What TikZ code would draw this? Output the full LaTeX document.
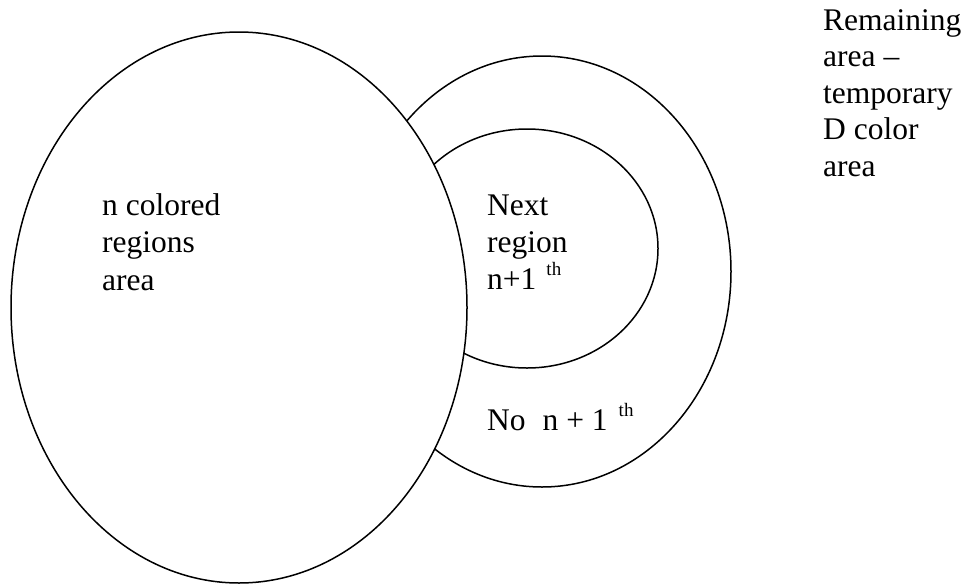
\documentclass[tikz,border=0pt]{standalone}
\usepackage{fontspec}
\setmainfont{Liberation Serif}
\begin{document}
\begin{tikzpicture}[x=1pt,y=-1pt]
\tikzset{
  region/.style={draw=black, line width=1.5pt},
  lbl/.style={anchor=base west, inner sep=0pt, font=\fontsize{31.5}{37}\selectfont},
}
\newcommand{\supth}{\raisebox{14pt}{\fontsize{19}{19}\selectfont th}}
\useasboundingbox (0,0) rectangle (966,584);
% outer region (remaining / no n+1)
\draw[region] (542,271.5) ellipse [x radius=189, y radius=215.5];
% inner region (next region)
\draw[region] (527,248.5) ellipse [x radius=131, y radius=119.5];
% n colored regions area (on top)
\draw[region, fill=white] (239,307.5) ellipse [x radius=228, y radius=275.5];
% labels
\node[lbl] (nc1) at (102,215) {n colored};
\node[lbl] (nc2) at (102,252) {regions};
\node[lbl] (nc3) at (102,290) {area};
\node[lbl] (nx1) at (487,215) {Next};
\node[lbl] (nx2) at (487,252) {region};
\node[lbl] (nx3) at (487,289) {n+1\hspace{10pt}\supth};
\node[lbl] (no) at (487,430) {No\hspace{17pt}n + 1\hspace{11pt}\supth};
\node[lbl] (rm1) at (823,30) {Remaining};
\node[lbl] (rm2) at (823,66.5) {area –};
\node[lbl] (rm3) at (823,103) {temporary};
\node[lbl] (rm4) at (823,139.5) {D color};
\node[lbl] (rm5) at (823,176) {area};
\end{tikzpicture}
\end{document}
